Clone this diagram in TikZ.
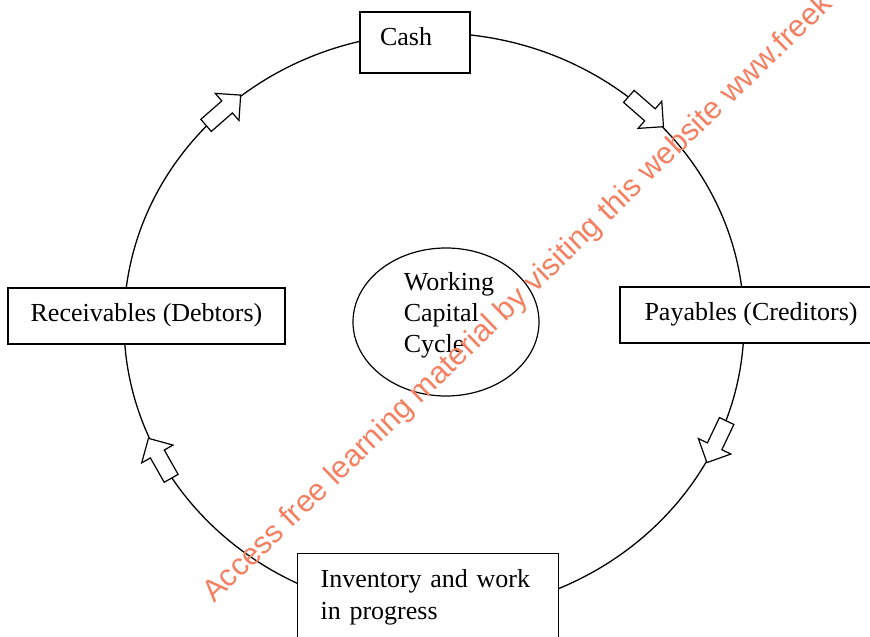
\documentclass[tikz,border=0pt]{standalone}
\usepackage{fontspec}
\setmainfont{Liberation Serif}
\newfontfamily\wmfont{Liberation Sans}
\usetikzlibrary{shapes.geometric}
\definecolor{wmcol}{RGB}{244,128,98}
\begin{document}
\begin{tikzpicture}[x=1pt,y=1pt,
  lbl/.style={font=\fontsize{26}{31}\selectfont},
  boxbase/.style={lbl, draw, line width=1.3pt, fill=white, inner sep=0pt},
  box/.style={boxbase, text height=18pt, text depth=6pt},
  blockarrow/.pic={\draw[line width=1.2pt, fill=white, line join=miter]
    (-22,-8) -- (6,-8) -- (6,-18) -- (24,0) -- (6,18) -- (6,8) -- (-22,8) -- cycle;},
  wm/.style={text=wmcol, font=\wmfont\fontsize{30.8}{30.8}\selectfont, inner sep=0pt}
]
\useasboundingbox (0,0) rectangle (870,637);
% main cycle
\draw[line width=1.3pt] (434,314) ellipse [x radius=310, y radius=290];
% direction arrows
\pic[rotate=41.2]  at (222.6,526.1) {blockarrow};
\pic[rotate=-41.2] at (645.4,526.1) {blockarrow};
\pic[rotate=244.6] at (717.2,196.1) {blockarrow};
\pic[rotate=119.6] at (160.3,177.8) {blockarrow};
% boxes
\node[box, minimum width=110, minimum height=61, text height=12pt,
      text width=90pt, inner xsep=10pt, align=left] (cash) at (415,594.5)
      {\hspace*{10pt}Cash};
\node[box, minimum width=277, minimum height=56] (rec) at (146.5,321) {Receivables (Debtors)};
\node[box, minimum width=262, minimum height=56] (pay) at (751,322) {Payables (Creditors)};
\node[boxbase, anchor=north west, minimum width=261, minimum height=88,
      inner xsep=23pt, inner ysep=0pt, text width=215pt, align=left,
      font=\fontsize{26}{32}\selectfont]
      (inv) at (297,84) {Inventory and work\\in progress};
% centre
\node[draw, ellipse, line width=1.2pt, minimum width=186, minimum height=148,
      inner sep=0pt] (cyc) at (446,315) {};
\node[lbl, align=left, inner sep=0pt] (cyctext) at (449,322) {Working\\Capital\\Cycle};
% watermark
\node[wm, rotate=44, anchor=base west] (wmark) at (214,33)
  {Access free learning material by visiting this website www.freek};
\end{tikzpicture}
\end{document}
